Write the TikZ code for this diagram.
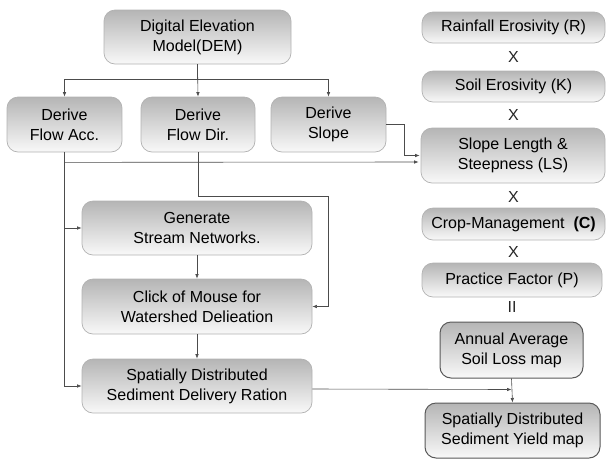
\documentclass[tikz,border=0pt]{standalone}
\usepackage{fontspec}
\setmainfont{Liberation Sans}
\usepackage{tikz}
\usetikzlibrary{arrows,arrows.meta,positioning,calc}

\tikzset{
  box/.style={draw=gray!60, line width=0.7pt, rounded corners=11pt,
    top color=gray!58, bottom color=gray!5, align=center, inner sep=0pt,
    text=black, font=\fontsize{16}{20}\selectfont},
  mapbox/.style={box, draw=black!65, line width=1pt},
  link/.style={-{Latex[length=4.5pt,width=3.5pt]}, draw=black!70, line width=0.6pt},
  times/.style={text=black!85, font=\fontsize{16}{20}\selectfont},
}

\begin{document}
\begin{tikzpicture}[x=1pt,y=-1pt]
    \useasboundingbox (0,0) rectangle (608,459);

    % left column
    \node [box, minimum width=187pt, minimum height=54pt] (dem) at (197.5,37) {Digital Elevation\\Model(DEM)};
    \node [box, minimum width=115pt, minimum height=55pt] (acc) at (64.5,124.5) {Derive\\Flow Acc.};
    \node [box, minimum width=114pt, minimum height=55pt] (dir) at (198,124.5) {Derive\\Flow Dir.};
    \node [box, minimum width=115pt, minimum height=55pt] (slope) at (328.5,124.5) {Derive\\Slope};
    \node [box, minimum width=230pt, minimum height=54pt] (gen) at (197,228) {Generate\\Stream Networks.};
    \node [box, minimum width=230pt, minimum height=55pt] (click) at (197,306.5) {Click of Mouse for\\Watershed Delieation};
    \node [box, minimum width=230pt, minimum height=54pt] (sdr) at (197,386) {Spatially Distributed\\Sediment Delivery Ration};

    % right column
    \node [box, minimum width=183pt, minimum height=31pt] (rain) at (513.5,27.5) {Rainfall Erosivity (R)};
    \node [times] (x1) at (513.5,57) {X};
    \node [box, minimum width=183pt, minimum height=31pt] (soil) at (513.5,86.5) {Soil Erosivity (K)};
    \node [times] (x2) at (513.5,115) {X};
    \node [box, minimum width=184pt, minimum height=55pt] (ls) at (513,155.5) {Slope Length \&\\Steepness (LS)};
    \node [times] (x3) at (513.5,197) {X};
    \node [box, minimum width=183pt, minimum height=32pt] (crop) at (513.5,224) {Crop-Management~~\textbf{(C)}};
    \node [times] (x4) at (513.5,252) {X};
    \node [box, minimum width=180pt, minimum height=34pt] (prac) at (512,280) {Practice Factor (P)};
    \node [times] (eq) at (512,307) {II};
    \node [mapbox, minimum width=143pt, minimum height=56pt] (annual) at (511.5,350) {Annual Average\\Soil Loss map};
    \node [mapbox, minimum width=175pt, minimum height=55pt] (yield) at (512.5,430.5) {Spatially Distributed\\Sediment Yield map};
    \coordinate (join) at ($(annual.south)+(0,11)$);

    % connectors
    \draw [link] (dem.south) -- (dir.north);
    \draw [link] (dem.south) -- ++(0,15) -| (acc.north);
    \draw [link] (dem.south) -- ++(0,15) -| (slope.north);
    \draw [link] (acc.south) |- (gen.west);
    \draw [link] (acc.south) |- (sdr.west);
    \draw [link] (acc.south) ++(0,10) -- ($(ls.west)+(-2,6.5)$);
    \draw [link] (slope.east) -- ++(18,0) |- ($(ls.west)+(-1,0)$);
    \draw [link] (dir.south) -- ++(0,44) -| ($(click.east)+(16,0)$) -- (click.east);
    \draw [link] (gen.south) -- (click.north);
    \draw [link] (click.south) -- (sdr.north);
    \draw [link] ($(sdr.east)+(0,3)$) -- (join);
    \draw [link] (annual.south) -- (yield.north);
\end{tikzpicture}
\end{document}
